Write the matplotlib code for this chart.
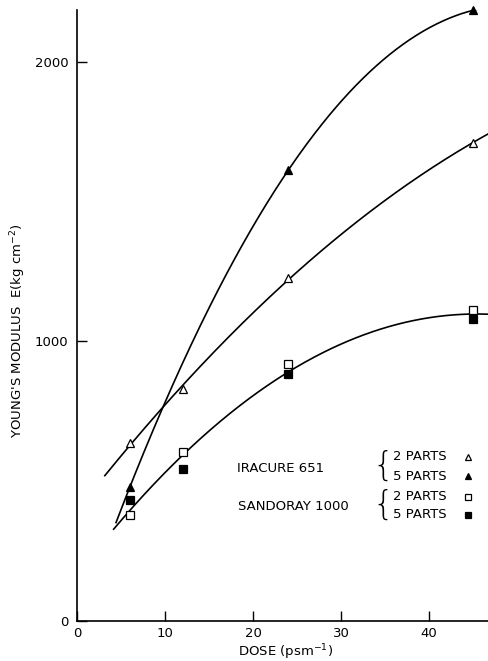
#!/usr/bin/env python3
import matplotlib.pyplot as plt
import numpy as np


# Young's modulus against dose for the two photoinitiators
dose = [6, 12, 24, 45]
iracure_2 = [636, 829, 1228, 1711]
iracure_5_dose = [6, 24, 45]
iracure_5 = [479, 1613, 2185]
sandoray_2 = [381, 603, 918, 1111]
sandoray_5 = [433, 543, 885, 1082]

W, H = 489, 661


def fig_xy(x, y):
    # pixel position -> figure fraction
    return x / W, 1 - y / H


def fitted(xs, ys, start, deg=2):
    coef = np.polyfit(xs, ys, deg)
    x = np.linspace(start, 50, 300)
    return x, np.polyval(coef, x)


def main():
    fig = plt.figure(figsize=(W / 100, H / 100), dpi=100)
    ax = fig.add_axes([77 / W, 1 - 621 / H, 1 - 77 / W, 611 / H])
    ax.set_xlim(0, 46.8)
    ax.set_ylim(0, 2186)

    for side in ("top", "right"):
        ax.spines[side].set_visible(False)
    for side in ("left", "bottom"):
        ax.spines[side].set_linewidth(1.2)

    ax.set_xticks([0, 10, 20, 30, 40])
    ax.set_yticks([0, 1000, 2000])
    ax.tick_params(direction="in", length=7, width=1.0, labelsize=9.5)
    ax.tick_params(axis="x", pad=4)
    ax.tick_params(axis="y", pad=6)

    line_kw = dict(color="black", lw=1.2, solid_capstyle="butt")

    # hand-fitted trend curves
    x, y = fitted(dose, iracure_2, 3.1)
    ax.plot(x, y, **line_kw)
    x, y = fitted(iracure_5_dose, iracure_5, 4.4)
    ax.plot(x, y, **line_kw)
    x, y = fitted(dose * 2, sandoray_2 + sandoray_5, 4.1)
    ax.plot(x, y, **line_kw)

    mk = dict(ls="none", mec="black", mew=0.9, clip_on=False, zorder=3)
    ax.plot(dose, iracure_2, marker="^", ms=6, mfc="white", **mk)
    ax.plot(iracure_5_dose, iracure_5, marker="^", ms=6, mfc="black", **mk)
    ax.plot(dose, sandoray_2, marker="s", ms=5.5, mfc="white", **mk)
    ax.plot(dose, sandoray_5, marker="s", ms=5.5, mfc="black", **mk)

    txt = dict(fontsize=9.5, va="center")
    fig.text(*fig_xy(286, 652), "DOSE (psm$^{-1}$)", ha="center", **txt)
    fig.text(*fig_xy(18, 331), "YOUNG'S MODULUS  E(kg cm$^{-2}$)",
             ha="center", rotation=90, **txt)

    # key
    fig.text(*fig_xy(237, 468), "IRACURE 651", ha="left", **txt)
    fig.text(*fig_xy(238, 506), "SANDORAY 1000", ha="left", **txt)
    for yb in (466, 505):
        fig.text(*fig_xy(383, yb), "{", ha="center", fontsize=24,
                 fontweight="light", va="center")
    rows = [(457, "^", "white"), (476, "^", "black"),
            (497, "s", "white"), (515, "s", "black")]
    for yy, m, fc in rows:
        n = "2" if fc == "white" else "5"
        fig.text(*fig_xy(393, yy), f"{n} PARTS", ha="left", **txt)
        fx, fy = fig_xy(468, yy)
        ax.plot([fx], [fy], marker=m, ms=5 if m == "^" else 4.5, mfc=fc,
                transform=fig.transFigure, **mk)

    fig.savefig("out.png", dpi=100)


if __name__ == "__main__":
    plt.rcParams.update({
        "font.family": "DejaVu Sans",
        "mathtext.default": "regular",
    })
    main()
